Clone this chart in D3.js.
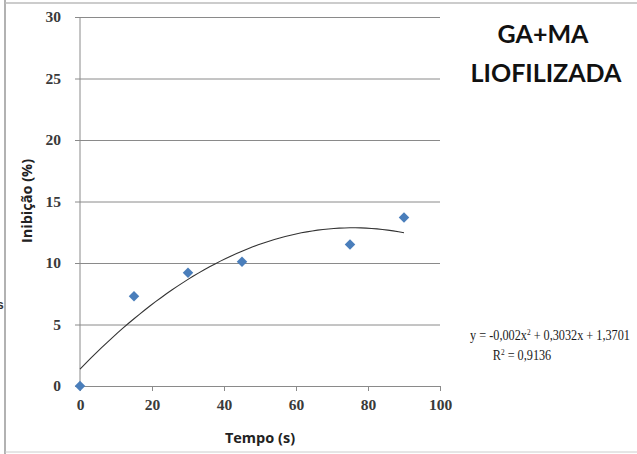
<!DOCTYPE html>
<meta charset="utf-8">
<style>
body { margin: 0; background: #fff; }
.tick text { font: bold 15.5px "Liberation Serif", serif; fill: #3a3a3a; }
.ttl { font-family: Lato, "Open Sans", sans-serif; font-weight: bold; fill: #111; }
.atl { font-family: "Open Sans", sans-serif; font-weight: bold; fill: #222; font-size: 14.5px; }
.eq { font: 15px "Liberation Serif", serif; fill: #1a1a1a; }
</style>
<body>
<script src="https://d3js.org/d3.v7.min.js"></script>
<script>
// data
var tempo = [0, 15, 30, 45, 75, 90];
var inibicao = [0, 7.3, 9.2, 10.1, 11.5, 13.7];
var xTicks = [0, 20, 40, 60, 80, 100];
var yTicks = [0, 5, 10, 15, 20, 25, 30];
// trendline coefficients as printed (a x^2 + b x + c)
var trend = [-0.002, 0.3032, 1.3701];
var trendX = d3.range(0, 90.5, 1.5);

var W = 637, H = 454;
var x = d3.scaleLinear().domain([0, 100]).range([80, 440]);
var y = d3.scaleLinear().domain([0, 30]).range([386, 17]);

var svg = d3.select("body").append("svg")
    .attr("width", W)
    .attr("height", H);

// outer frame pieces
svg.append("line").attr("x1", 5).attr("x2", 5).attr("y1", 0).attr("y2", H)
    .attr("stroke", "#999").attr("stroke-width", 1.5);
svg.append("line").attr("x1", 5).attr("x2", W).attr("y1", 3).attr("y2", 3)
    .attr("stroke", "#bbb").attr("stroke-width", 1.5);
svg.append("line").attr("x1", 5).attr("x2", W).attr("y1", 452).attr("y2", 452)
    .attr("stroke", "#ccc").attr("stroke-width", 1);
svg.append("text").attr("x", -3).attr("y", 309).text("s")
    .style("font", "bold 12px sans-serif").style("fill", "#333");

// gridlines + y axis
var yAxis = d3.axisLeft(y).tickValues(yTicks).tickSize(-(440 - 75)).tickPadding(14);
var gY = svg.append("g").attr("transform", "translate(75,0)").call(yAxis);
gY.select(".domain").remove();
gY.selectAll(".tick line").attr("stroke", "#8a8a8a");
svg.append("line").attr("x1", 80).attr("x2", 80).attr("y1", y(30)).attr("y2", y(0))
    .attr("stroke", "#8a8a8a");

// x axis
var xAxis = d3.axisBottom(x).tickValues(xTicks).tickSize(5).tickSizeOuter(0).tickPadding(8);
var gX = svg.append("g").attr("transform", "translate(0," + y(0) + ")").call(xAxis);
gX.select(".domain").attr("stroke", "#8a8a8a");
gX.selectAll(".tick line").attr("stroke", "#8a8a8a");

// trendline
var line = d3.line()
    .x(function(d) { return x(d); })
    .y(function(d) { return y(trend[0] * d * d + trend[1] * d + trend[2]); });
svg.append("path")
    .attr("d", line(trendX))
    .attr("fill", "none")
    .attr("stroke", "#333")
    .attr("stroke-width", 1.1);

// markers
svg.selectAll(".pt")
    .data(d3.zip(tempo, inibicao))
    .enter().append("path")
    .attr("class", "pt")
    .attr("d", d3.symbol().type(d3.symbolDiamond2).size(70))
    .attr("transform", function(d) { return "translate(" + x(d[0]) + "," + y(d[1]) + ")"; })
    .attr("fill", "#4a7ebb");

// titles
svg.append("text").attr("class", "atl")
    .attr("x", 260).attr("y", 443).attr("text-anchor", "middle")
    .text("Tempo (s)");
svg.append("text").attr("class", "atl")
    .attr("transform", "translate(32,201) rotate(-90)").attr("text-anchor", "middle")
    .text("Inibição (%)");
svg.append("text").attr("class", "ttl")
    .attr("x", 543).attr("y", 43).attr("text-anchor", "middle")
    .style("font-size", "25px").text("GA+MA");
svg.append("text").attr("class", "ttl")
    .attr("x", 546).attr("y", 82).attr("text-anchor", "middle")
    .style("font-size", "25px").text("LIOFILIZADA");

// equation, squeezed a little like the narrow original font
var gEq = svg.append("g"), gR2 = svg.append("g");
var eq = gEq.append("text").attr("class", "eq").attr("text-anchor", "middle");
eq.append("tspan").text("y = -0,002x");
eq.append("tspan").attr("dy", -5).style("font-size", "9px").text("2");
eq.append("tspan").attr("dy", 5).text(" + 0,3032x + 1,3701");
var r2 = gR2.append("text").attr("class", "eq").attr("text-anchor", "middle");
r2.append("tspan").text("R");
r2.append("tspan").attr("dy", -5).style("font-size", "9px").text("2");
r2.append("tspan").attr("dy", 5).text(" = 0,9136");

var k = 160 / eq.node().getComputedTextLength();
gEq.attr("transform", "translate(550,340) scale(" + k + ",1)");
gR2.attr("transform", "translate(522,360) scale(" + k + ",1)");
</script>
</body>
